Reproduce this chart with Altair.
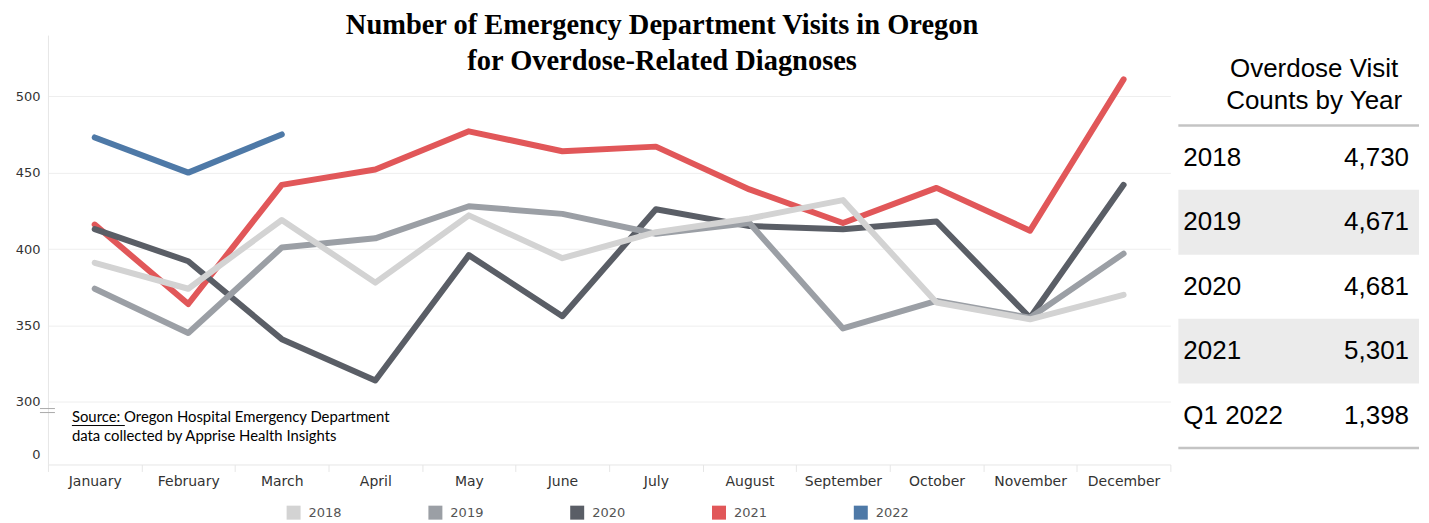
import altair as alt
import pandas as pd

MONTHS = ["January", "February", "March", "April", "May", "June", "July",
          "August", "September", "October", "November", "December"]
YEARS = ["2018", "2019", "2020", "2021", "2022"]
V2018 = [391, 374, 419, 378, 422, 394, 411, 420, 432, 365, 354, 370]
V2019 = [374, 345, 401, 407, 428, 423, 410, 417, 348, 366, 355, 397]
V2020 = [413, 392, 341, 314, 396, 356, 426, 415, 413, 418, 355, 442]
V2021 = [416, 364, 442, 452, 477, 464, 467, 439, 417, 440, 412, 511]
V2022 = [473, 450, 475]
COLORS = ["#d3d3d3", "#9b9fa5", "#5a5e66", "#e15759", "#4e79a7"]

TABLE_LABELS = ["2018", "2019", "2020", "2021", "Q1 2022"]
TABLE_TOTALS = [4730, 4671, 4681, 5301, 1398]
TABLE_HEADER = "Overdose Visit\nCounts by Year"

GRID_VALUES = [300, 350, 400, 450, 500]
ZERO_POS = 265.5
Y_DOMAIN = [259, 540]

TITLE = "Number of Emergency Department Visits in Oregon\nfor Overdose-Related Diagnoses"
SOURCE = "Source: Oregon Hospital Emergency Department\ndata collected by Apprise Health Insights"

W, H = 1124, 430
AXIS_FONT = "DejaVu Sans"

series = {"2018": V2018, "2019": V2019, "2020": V2020, "2021": V2021, "2022": V2022}
rows = []
for yr in reversed(YEARS):
    for m, v in zip(MONTHS, series[yr]):
        rows.append({"year": yr, "month": m, "visits": v})
df = pd.DataFrame(rows)

one = pd.DataFrame({"a": [0]})

lines = alt.Chart(df).mark_line(strokeWidth=6, strokeCap="round", strokeJoin="round").encode(
    x=alt.X("month:N", sort=MONTHS,
            scale=alt.Scale(type="band", paddingInner=0, paddingOuter=0),
            axis=alt.Axis(title=None, labelAngle=0, labelFont=AXIS_FONT, labelFontSize=14,
                          labelColor="#333333", tickBand="extent", tickSize=7,
                          tickColor="#e6e6e6", domainColor="#e6e6e6", labelPadding=3,
                          grid=False)),
    y=alt.Y("visits:Q", scale=alt.Scale(domain=Y_DOMAIN, nice=False, zero=False),
            axis=alt.Axis(title=None, values=[ZERO_POS] + GRID_VALUES,
                          labelExpr="datum.value < 290 ? '0' : datum.label",
                          ticks=False, grid=True, gridColor="#eeeeee",
                          gridOpacity={"condition": {"test": "datum.value < 290", "value": 0},
                                       "value": 1},
                          domainColor="#e6e6e6",
                          labelPadding=8, labelFont=AXIS_FONT, labelFontSize=13,
                          labelColor="#333333")),
    color=alt.Color("year:N", scale=alt.Scale(domain=YEARS, range=COLORS),
                    legend=alt.Legend(title=None, orient="none", legendX=239, legendY=471,
                                      direction="horizontal", columns=5,
                                      symbolType="square", symbolSize=49,
                                      symbolStrokeWidth=7, labelFont=AXIS_FONT,
                                      labelFontSize=13, labelColor="#555555",
                                      labelOffset=8, columnPadding=75, padding=0)),
    detail="year:N",
)

brk1 = alt.Chart(one).mark_rule(color="#aaaaaa", strokeWidth=1).encode(
    x=alt.value(-8), x2=alt.value(7), y=alt.value(374))
brk2 = alt.Chart(one).mark_rule(color="#aaaaaa", strokeWidth=1).encode(
    x=alt.value(-8), x2=alt.value(7), y=alt.value(378))

title = alt.Chart(pd.DataFrame({"t": [TITLE]})).mark_text(
    font="Liberation Serif", fontSize=28.5, fontWeight="bold", lineBreak="\n",
    lineHeight=36, align="center", baseline="middle", color="black"
).encode(text="t:N", x=alt.value(615), y=alt.value(-10))

source = alt.Chart(pd.DataFrame({"t": [SOURCE]})).mark_text(
    font="Lato", fontSize=14.9, lineBreak="\n", lineHeight=19, align="left",
    baseline="middle", color="black"
).encode(text="t:N", x=alt.value(24), y=alt.value(383))

underline = alt.Chart(one).mark_rule(color="black", strokeWidth=1).encode(
    x=alt.value(24), x2=alt.value(77), y=alt.value(391))

tdf = pd.DataFrame({"label": TABLE_LABELS, "total": TABLE_TOTALS,
                    "row": list(range(len(TABLE_LABELS)))})
tbase = alt.Chart(tdf).transform_calculate(ty="123 + 64.5 * datum.row")

shade = tbase.transform_filter("datum.row % 2 == 1").transform_calculate(
    y1="datum.ty - 32.5", y2="datum.ty + 32.5"
).mark_rect(color="#ebebeb").encode(
    x=alt.value(1132), x2=alt.value(1373),
    y=alt.Y("y1:Q", scale=None), y2="y2:Q")

trules = tbase.transform_filter("datum.row == 0 || datum.row == 4").transform_calculate(
    ry="datum.row == 0 ? datum.ty - 32.5 : datum.ty + 32.5"
).mark_rule(color="#c4c4c4", strokeWidth=2.5).encode(
    x=alt.value(1132), x2=alt.value(1373), y=alt.Y("ry:Q", scale=None))

tlabels = tbase.mark_text(align="left", baseline="middle", font="Liberation Sans",
                          fontSize=26, color="black").encode(
    x=alt.value(1137), y=alt.Y("ty:Q", scale=None), text="label:N")

ttotals = tbase.mark_text(align="right", baseline="middle", font="Liberation Sans",
                          fontSize=26, color="black").encode(
    x=alt.value(1363), y=alt.Y("ty:Q", scale=None),
    text=alt.Text("total:Q", format=","))

theader = alt.Chart(pd.DataFrame({"t": [TABLE_HEADER]})).mark_text(
    font="Liberation Sans", fontSize=26, lineBreak="\n", lineHeight=32,
    align="center", baseline="middle", color="black"
).encode(text="t:N", x=alt.value(1268), y=alt.value(34))

chart = alt.layer(
    lines, shade, trules, brk1, brk2, title, source, underline,
    tlabels, ttotals, theader
).properties(
    width=W, height=H,
    padding={"left": 7, "top": 2.75, "right": 0, "bottom": 0},
    background="white",
).configure_view(stroke=None)

chart.save("out.html", embed_options={"renderer": "svg", "actions": False})
